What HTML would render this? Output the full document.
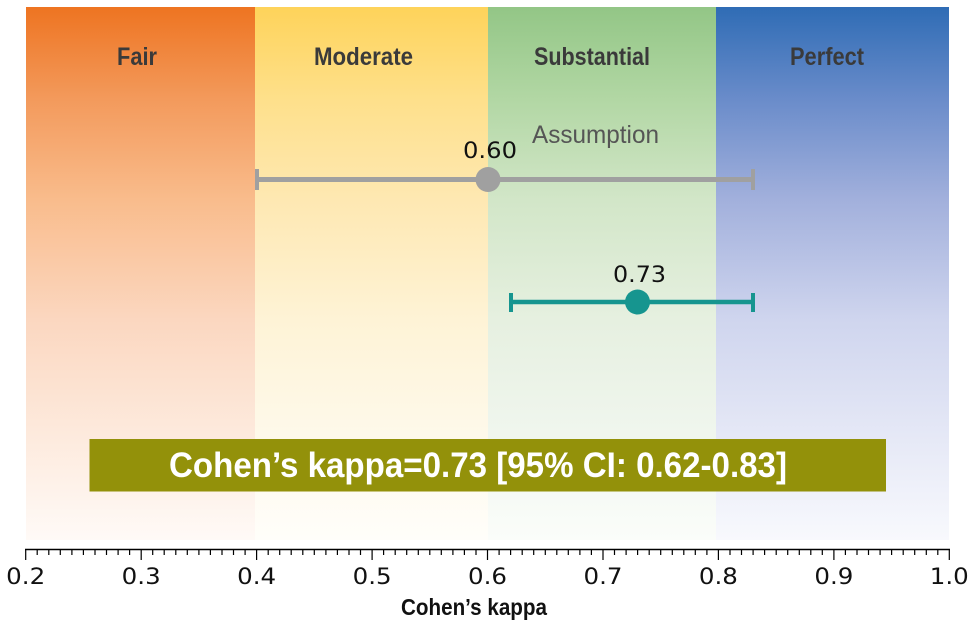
<!DOCTYPE html>
<html>
<head>
<meta charset="utf-8">
<style>
html,body{margin:0;padding:0;background:#fff;}
svg{display:block;}
</style>
</head>
<body>
<svg width="976" height="629" viewBox="0 0 976 629" xmlns="http://www.w3.org/2000/svg">
<defs>
<linearGradient id="gF" x1="0" y1="7" x2="0" y2="540" gradientUnits="userSpaceOnUse">
<stop offset="0" stop-color="#ee7421"/><stop offset="0.174" stop-color="#f39a5c"/><stop offset="0.362" stop-color="#f9bc8c"/><stop offset="0.587" stop-color="#fbd7c0"/><stop offset="0.803" stop-color="#fdeadd"/><stop offset="1" stop-color="#fffaf7"/>
</linearGradient>
<linearGradient id="gM" x1="0" y1="7" x2="0" y2="540" gradientUnits="userSpaceOnUse">
<stop offset="0" stop-color="#fed35a"/><stop offset="0.174" stop-color="#fee08b"/><stop offset="0.362" stop-color="#fee8b2"/><stop offset="0.587" stop-color="#fef3d6"/><stop offset="0.803" stop-color="#fef9ea"/><stop offset="1" stop-color="#fffefa"/>
</linearGradient>
<linearGradient id="gS" x1="0" y1="7" x2="0" y2="540" gradientUnits="userSpaceOnUse">
<stop offset="0" stop-color="#93c686"/><stop offset="0.174" stop-color="#b2d7a4"/><stop offset="0.362" stop-color="#d2e6c8"/><stop offset="0.587" stop-color="#e6f0e0"/><stop offset="0.803" stop-color="#f0f6ee"/><stop offset="1" stop-color="#fbfdfa"/>
</linearGradient>
<linearGradient id="gP" x1="0" y1="7" x2="0" y2="540" gradientUnits="userSpaceOnUse">
<stop offset="0" stop-color="#2f6cb5"/><stop offset="0.174" stop-color="#6a8cca"/><stop offset="0.362" stop-color="#a2b0dc"/><stop offset="0.587" stop-color="#cfd5ee"/><stop offset="0.803" stop-color="#e5e8f6"/><stop offset="1" stop-color="#f8f9fd"/>
</linearGradient>
</defs>

<rect x="26" y="7" width="229" height="533" fill="url(#gF)"/>
<rect x="255" y="7" width="233" height="533" fill="url(#gM)"/>
<rect x="488" y="7" width="228" height="533" fill="url(#gS)"/>
<rect x="716" y="7" width="233" height="533" fill="url(#gP)"/>

<g font-family="'Liberation Sans Narrow','Liberation Sans',sans-serif" font-weight="bold" font-size="25" fill="#3a3a3a">
<text x="117" y="65" textLength="40" lengthAdjust="spacingAndGlyphs">Fair</text>
<text x="314" y="65" textLength="99" lengthAdjust="spacingAndGlyphs">Moderate</text>
<text x="534" y="65" textLength="116" lengthAdjust="spacingAndGlyphs">Substantial</text>
<text x="790" y="65" textLength="74" lengthAdjust="spacingAndGlyphs">Perfect</text>
</g>

<text x="532" y="143" font-family="'Liberation Sans Narrow','Liberation Sans',sans-serif" font-size="25" fill="#555555" textLength="127" lengthAdjust="spacingAndGlyphs">Assumption</text>

<!-- gray assumption bar -->
<line x1="257" y1="179.5" x2="753" y2="179.5" stroke="#a0a0a0" stroke-width="5"/>
<rect x="255" y="169" width="4" height="21" fill="#a0a0a0"/>
<rect x="751" y="169" width="4" height="21" fill="#a0a0a0"/>
<circle cx="488" cy="179.5" r="12.5" fill="#a0a0a0"/>
<text x="463" y="158" font-family="'DejaVu Sans',sans-serif" font-size="22" fill="#111" textLength="54" lengthAdjust="spacingAndGlyphs">0.60</text>

<!-- teal bar -->
<line x1="511" y1="302" x2="753" y2="302" stroke="#16958f" stroke-width="4.5"/>
<rect x="509" y="293" width="4" height="19" fill="#16958f"/>
<rect x="751" y="293" width="4" height="19" fill="#16958f"/>
<circle cx="637.5" cy="302" r="12.5" fill="#16958f"/>
<text x="613" y="282" font-family="'DejaVu Sans',sans-serif" font-size="22" fill="#111" textLength="53" lengthAdjust="spacingAndGlyphs">0.73</text>

<!-- box -->
<rect x="89.5" y="439" width="796.5" height="52.5" fill="#93910a"/>
<text x="169" y="477" font-family="'Liberation Sans Narrow','Liberation Sans',sans-serif" font-weight="bold" font-size="35" fill="#ffffff" textLength="618" lengthAdjust="spacingAndGlyphs">Cohen’s kappa=0.73 [95% CI: 0.62-0.83]</text>

<!-- axis -->
<line x1="25" y1="549.5" x2="950" y2="549.5" stroke="#000" stroke-width="1.5"/>
<g stroke="#000" stroke-width="1.2" id="ticks"></g>

<g font-family="'DejaVu Sans',sans-serif" font-size="22" fill="#111" text-anchor="middle">
<text x="25.7" y="584" textLength="39" lengthAdjust="spacingAndGlyphs">0.2</text>
<text x="141.2" y="584" textLength="39" lengthAdjust="spacingAndGlyphs">0.3</text>
<text x="256.6" y="584" textLength="39" lengthAdjust="spacingAndGlyphs">0.4</text>
<text x="372.1" y="584" textLength="39" lengthAdjust="spacingAndGlyphs">0.5</text>
<text x="487.5" y="584" textLength="39" lengthAdjust="spacingAndGlyphs">0.6</text>
<text x="603" y="584" textLength="39" lengthAdjust="spacingAndGlyphs">0.7</text>
<text x="718.4" y="584" textLength="39" lengthAdjust="spacingAndGlyphs">0.8</text>
<text x="833.9" y="584" textLength="39" lengthAdjust="spacingAndGlyphs">0.9</text>
<text x="949.3" y="584" textLength="39" lengthAdjust="spacingAndGlyphs">1.0</text>
</g>

<text x="401" y="615" font-family="'Liberation Sans Narrow','Liberation Sans',sans-serif" font-weight="bold" font-size="23" fill="#111" textLength="146" lengthAdjust="spacingAndGlyphs">Cohen’s kappa</text>

<g stroke="#000" stroke-width="1.2">
<path d="M25.7 549V560M37.2 549V555M48.8 549V555M60.3 549V555M71.9 549V555M83.4 549V555M95 549V555M106.5 549V555M118.1 549V555M129.6 549V555
M141.2 549V560M152.7 549V555M164.2 549V555M175.8 549V555M187.3 549V555M198.9 549V555M210.4 549V555M222 549V555M233.5 549V555M245.1 549V555
M256.6 549V560M268.2 549V555M279.7 549V555M291.2 549V555M302.8 549V555M314.3 549V555M325.9 549V555M337.4 549V555M349 549V555M360.5 549V555
M372.1 549V560M383.6 549V555M395.2 549V555M406.7 549V555M418.3 549V555M429.8 549V555M441.3 549V555M452.9 549V555M464.4 549V555M476 549V555
M487.5 549V560M499.1 549V555M510.6 549V555M522.2 549V555M533.7 549V555M545.3 549V555M556.8 549V555M568.3 549V555M579.9 549V555M591.4 549V555
M603 549V560M614.5 549V555M626.1 549V555M637.6 549V555M649.2 549V555M660.7 549V555M672.3 549V555M683.8 549V555M695.3 549V555M706.9 549V555
M718.4 549V560M730 549V555M741.5 549V555M753.1 549V555M764.6 549V555M776.2 549V555M787.7 549V555M799.3 549V555M810.8 549V555M822.3 549V555
M833.9 549V560M845.4 549V555M857 549V555M868.5 549V555M880.1 549V555M891.6 549V555M903.2 549V555M914.7 549V555M926.3 549V555M937.8 549V555
M949.3 549V560"/>
</g>
</svg>
</body>
</html>
